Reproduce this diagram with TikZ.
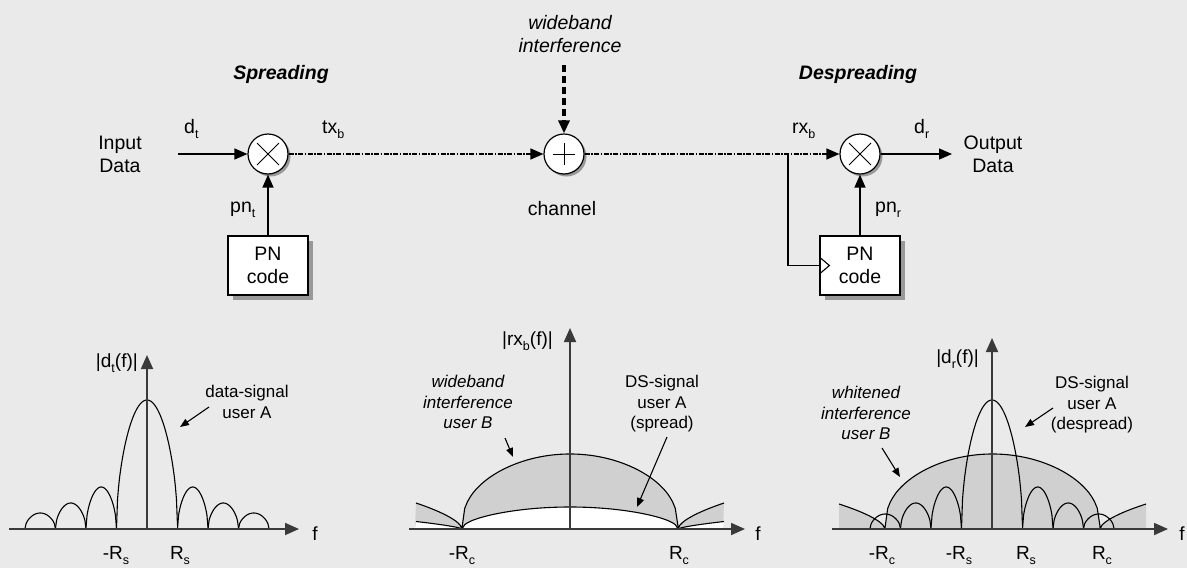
\documentclass[tikz,border=0pt]{standalone}
\usepackage{fontspec}
\setmainfont{Liberation Sans}
\usetikzlibrary{arrows.meta,shadows}
\definecolor{bg}{HTML}{EAEAEA}
\definecolor{fillg}{HTML}{D0D0D0}
\definecolor{shad}{HTML}{999999}
\definecolor{axc}{HTML}{3A3A3A}
\newcommand\lsub[2][12.5]{\raisebox{-0.3em}{\fontsize{#1}{#1}\selectfont #2}}
\begin{document}
\begin{tikzpicture}[x=1pt,y=-1pt,
  declare function={pw(\a,\b)=exp(\b*ln(abs(\a)+0.00001));},
  txt/.style={font=\fontsize{19.5}{23.5}\selectfont, inner sep=0pt},
  ann/.style={font=\fontsize{17}{20.5}\selectfont, inner sep=0pt, align=center},
  axl/.style={font=\fontsize{19}{23}\selectfont, inner sep=0pt},
  arr/.style={-{Triangle[length=13pt,width=11pt]}, line width=1.3pt},
  axarr/.style={-{Triangle[length=14pt,width=12pt]}, line width=1.8pt, draw=axc, color=axc},
  annarr/.style={-{Triangle[length=9pt,width=7pt]}, line width=1.1pt},
  chan/.style={line width=1.6pt, dash pattern=on 5pt off 1.5pt on 1.5pt off 1.5pt},
  opcirc/.style={circle, draw, line width=1.2pt, fill=white, minimum size=40pt, inner sep=0pt,
     drop shadow={shadow xshift=2.5pt, shadow yshift=-2.5pt, fill=shad, opacity=1}},
  pnbox/.style={rectangle, draw, line width=1.2pt, fill=white, minimum width=80pt, minimum height=59pt,
     align=center, font=\fontsize{19.5}{23.5}\selectfont, inner sep=0pt,
     drop shadow={shadow xshift=5pt, shadow yshift=-5pt, fill=shad, opacity=1}},
  curve/.style={line width=1.1pt, line join=round}
]
\fill[bg] (0,0) rectangle (1187,568);
\useasboundingbox (0,0) rectangle (1187,568);

% ---------------- top block diagram ----------------
\node[txt, anchor=base] (sp) at (281,79) {\bfseries\itshape Spreading};
\node[txt, anchor=base] (dsp) at (858,79) {\bfseries\itshape Despreading};
\node[txt, align=center] (wb) at (570,34) {\itshape wideband\\\itshape interference};
\node[txt, align=center] (indata) at (120,154.5) {Input\\Data};
\node[txt, align=center] (outdata) at (993,154.5) {Output\\Data};

\node[opcirc] (m1) at (268,154) {};
\node[opcirc] (add) at (564,154) {};
\node[opcirc] (m2) at (860,154) {};
\draw[line width=1pt] (m1) ++(-11,-11) -- ++(22,22) (m1) ++(11,-11) -- ++(-22,22);
\draw[line width=1pt] (m2) ++(-11,-11) -- ++(22,22) (m2) ++(11,-11) -- ++(-22,22);
\draw[line width=1pt] (add) ++(-11,0) -- ++(22,0) (add) ++(0,-11) -- ++(0,22);

\node[pnbox] (pn1) at (268,265.5) {PN\\code};
\node[pnbox] (pn2) at (860,265.5) {PN\\code};

\coordinate (in) at (178,154);
\coordinate (out) at (952,154);
\coordinate (intf) at (564,65);
\coordinate (br) at (788,154);

\draw[arr] (in) -- (m1);
\draw[arr] (pn1) -- (m1);
\draw[arr, chan] (m1) -- (add);
\draw[arr, chan] (add) -- (m2);
\draw[arr, line width=3.5pt, dash pattern=on 7pt off 4pt] (intf) -- (add);
\draw[arr] (pn2) -- (m2);
\draw[arr] (m2) -- (out);
\draw[line width=1.2pt] (br) |- (pn2.west);
\draw[line width=1.1pt] (pn2.west) ++(0,-8.5) -- ++(10,8.5) -- ++(-10,8.5);

\node[txt, anchor=base west] (dt) at (184,133) {d\lsub{t}};
\node[txt, anchor=base west] (txb) at (322,133) {tx\lsub{b}};
\node[txt, anchor=base west] (rxb) at (792,133) {rx\lsub{b}};
\node[txt, anchor=base west] (dr) at (914,133) {d\lsub{r}};
\node[txt, anchor=base west] (pnt) at (230,212) {pn\lsub{t}};
\node[txt, anchor=base west] (pnr) at (875,212) {pn\lsub{r}};
\node[txt, anchor=base] (chl) at (562,215) {channel};

% ---------------- spectrum 1 ----------------
\draw[curve] plot[domain=-1:1, samples=60, variable=\u] ({147+30.5*\u},{529-129*pw(cos(90*\u),0.5)});
\foreach \k/\h in {1/42,2/26,3/16}{
  \draw[curve] plot[domain=0:1, samples=30, variable=\t] ({147+30.5*(\k+\t)},{529-\h*pw(sin(180*\t),0.5)});
  \draw[curve] plot[domain=0:1, samples=30, variable=\t] ({147-30.5*(\k+\t)},{529-\h*pw(sin(180*\t),0.5)});
}
\coordinate (a1o) at (9,529); \coordinate (a1x) at (299,529);
\coordinate (a1b) at (147,529); \coordinate (a1y) at (147,355);
\draw[axarr] (a1o) -- (a1x);
\draw[axarr] (a1b) -- (a1y);
\node[axl, anchor=base east] (l1) at (138,367) {|d\lsub{t}(f)|};
\node[axl, anchor=base] (f1) at (315,540) {f};
\node[axl, anchor=base] (mrs1) at (116,559) {-R\lsub{s}};
\node[axl, anchor=base] (rs1) at (180,559) {R\lsub{s}};
\node[ann] (dsa) at (247,402) {data-signal\\user A};
\coordinate (a1s) at (209,407); \coordinate (a1e) at (180,427);
\draw[annarr] (a1s) -- (a1e);

% ---------------- spectrum 2 ----------------
\fill[fillg] (415,529) -- plot[domain=46:0, samples=25, variable=\d] ({462-\d},{529-26*pw(\d/46,0.6)})
  -- plot[domain=-1:1, samples=80, variable=\u] ({570+108*\u},{529-75*pw(cos(90*\u),0.4)})
  -- plot[domain=0:46, samples=25, variable=\d] ({678+\d},{529-26*pw(\d/46,0.6)}) -- (723,529) -- cycle;
\fill[white] (415,529) -- plot[domain=46:0, samples=25, variable=\d] ({462-\d},{529-7.5*pw(\d/46,0.7)})
  -- plot[domain=-1:1, samples=80, variable=\u] ({570+108*\u},{529-22*pw(cos(90*\u),0.5)})
  -- plot[domain=0:46, samples=25, variable=\d] ({678+\d},{529-7.5*pw(\d/46,0.7)}) -- (723,529) -- cycle;
\draw[curve] plot[domain=46:0, samples=25, variable=\d] ({462-\d},{529-26*pw(\d/46,0.6)})
  -- plot[domain=-1:1, samples=80, variable=\u] ({570+108*\u},{529-75*pw(cos(90*\u),0.4)})
  -- plot[domain=0:46, samples=25, variable=\d] ({678+\d},{529-26*pw(\d/46,0.6)});
\draw[curve] plot[domain=46:0, samples=25, variable=\d] ({462-\d},{529-7.5*pw(\d/46,0.7)})
  -- plot[domain=-1:1, samples=80, variable=\u] ({570+108*\u},{529-22*pw(cos(90*\u),0.5)})
  -- plot[domain=0:46, samples=25, variable=\d] ({678+\d},{529-7.5*pw(\d/46,0.7)});
\coordinate (a2o) at (409,529); \coordinate (a2x) at (745,529);
\coordinate (a2b) at (570,529); \coordinate (a2y) at (570,328);
\draw[axarr] (a2o) -- (a2x);
\draw[axarr] (a2b) -- (a2y);
\node[axl, anchor=base east] (l2) at (553,345) {|rx\lsub{b}(f)|};
\node[axl, anchor=base] (f2) at (758,540) {f};
\node[axl, anchor=base] (mrc2) at (462,559) {-R\lsub{c}};
\node[axl, anchor=base] (rc2) at (679,559) {R\lsub{c}};
\node[ann, font=\fontsize{17}{20.5}\selectfont\itshape] (wib) at (468,402) {wideband\\interference\\user B};
\node[ann] (dss) at (662,404) {DS-signal\\user A\\(spread)};
\coordinate (a2s) at (505,438); \coordinate (a2e) at (513,457);
\draw[annarr] (a2s) -- (a2e);
\coordinate (a3s) at (667,437); \coordinate (a3e) at (637,507);
\draw[annarr] (a3s) -- (a3e);

% ---------------- spectrum 3 ----------------
\fill[fillg] (839,529) -- plot[domain=46:0, samples=25, variable=\d] ({885-\d},{529-25*pw(\d/46,0.6)})
  -- plot[domain=-1:1, samples=80, variable=\u] ({992.5+107.5*\u},{529-75*pw(cos(90*\u),0.4)})
  -- plot[domain=0:46, samples=25, variable=\d] ({1100+\d},{529-25*pw(\d/46,0.6)}) -- (1146,529) -- cycle;
\draw[curve] plot[domain=46:0, samples=25, variable=\d] ({885-\d},{529-25*pw(\d/46,0.6)})
  -- plot[domain=-1:1, samples=80, variable=\u] ({992.5+107.5*\u},{529-75*pw(cos(90*\u),0.4)})
  -- plot[domain=0:46, samples=25, variable=\d] ({1100+\d},{529-25*pw(\d/46,0.6)});
\draw[curve] plot[domain=-1:1, samples=60, variable=\u] ({992+30.5*\u},{529-129*pw(cos(90*\u),0.5)});
\foreach \k/\h in {1/42,2/26,3/15}{
  \draw[curve] plot[domain=0:1, samples=30, variable=\t] ({992+30.5*(\k+\t)},{529-\h*pw(sin(180*\t),0.5)});
  \draw[curve] plot[domain=0:1, samples=30, variable=\t] ({992-30.5*(\k+\t)},{529-\h*pw(sin(180*\t),0.5)});
}
\coordinate (a3o) at (832,529); \coordinate (a3x) at (1168,529);
\coordinate (a3b) at (992,529); \coordinate (a3y) at (992,338);
\draw[axarr] (a3o) -- (a3x);
\draw[axarr] (a3b) -- (a3y);
\node[axl, anchor=base east] (l3) at (979,363) {|d\lsub{r}(f)|};
\node[axl, anchor=base] (f3) at (1182,540) {f};
\node[axl, anchor=base] (mrc3) at (882,559) {-R\lsub{c}};
\node[axl, anchor=base] (mrs3) at (959,559) {-R\lsub{s}};
\node[axl, anchor=base] (rs3) at (1026,559) {R\lsub{s}};
\node[axl, anchor=base] (rc3) at (1102,559) {R\lsub{c}};
\node[ann, font=\fontsize{17}{20.5}\selectfont\itshape] (wtb) at (866,413) {whitened\\interference\\user B};
\node[ann] (dsd) at (1092,405) {DS-signal\\user A\\(despread)};
\coordinate (a4s) at (882,448); \coordinate (a4e) at (900,477);
\draw[annarr] (a4s) -- (a4e);
\coordinate (a5s) at (1053,408); \coordinate (a5e) at (1025,427);
\draw[annarr] (a5s) -- (a5e);
\end{tikzpicture}
\end{document}
